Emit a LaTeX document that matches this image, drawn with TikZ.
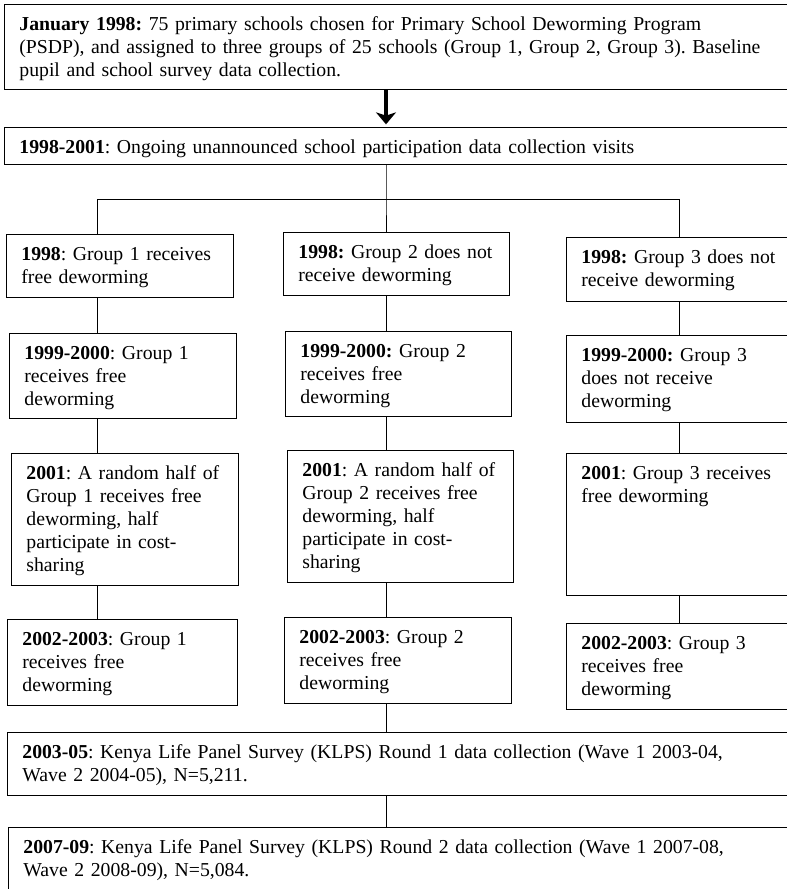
\documentclass[tikz,border=0pt]{standalone}
\usepackage{fontspec}
\setmainfont{Liberation Serif}
\usetikzlibrary{arrows.meta}
\frenchspacing

\begin{document}
\begin{tikzpicture}[x=0.75pt,y=-0.75pt,
    box/.style={draw,line width=1.1pt,anchor=north west,align=left,
      inner xsep=11pt,inner ysep=6pt,text height=13.5pt,
      font=\fontsize{14.8}{17.2}\selectfont},
    link/.style={line width=0.7pt}]
  \useasboundingbox (0,0) rectangle (787,889);
  \coordinate (c1) at (97,0);
  \coordinate (c2) at (386,0);
  \coordinate (c3) at (679,0);
  \coordinate (split) at (386,199);

  \node[box,text width=575pt,text depth=38.25pt] (start) at (4,4)
    {\textbf{January 1998:} 75 primary schools chosen for Primary School Deworming Program\\
     (PSDP), and assigned to three groups of 25 schools (Group 1, Group 2, Group 3). Baseline\\
     pupil and school survey data collection.};
  \node[box,text width=575pt,text depth=2.25pt] (visits) at (4,127)
    {\textbf{1998-2001}: Ongoing unannounced school participation data collection visits};

  \node[box,text width=148.25pt,text depth=21.75pt] (g1a) at (6,234)
    {\textbf{1998}: Group 1 receives\\ free deworming};
  \node[box,text width=147.5pt,text depth=21.75pt] (g2a) at (283,232)
    {\textbf{1998:} Group 2 does not\\ receive deworming};
  \node[box,text width=154.25pt,text depth=22.5pt] (g3a) at (566,237)
    {\textbf{1998:} Group 3 does not\\ receive deworming};

  \node[box,text width=148.25pt,text depth=38.25pt] (g1b) at (9,333)
    {\textbf{1999-2000}: Group 1\\ receives free\\ deworming};
  \node[box,text width=147.5pt,text depth=38.25pt] (g2b) at (285,331)
    {\textbf{1999-2000:} Group 2\\ receives free\\ deworming};
  \node[box,text width=154.25pt,text depth=39.75pt] (g3b) at (566,335)
    {\textbf{1999-2000:} Group 3\\ does not receive\\ deworming};

  \node[box,text width=148.25pt,text depth=73.5pt] (g1c) at (11,453)
    {\textbf{2001}: A random half of\\ Group 1 receives free\\ deworming, half\\ participate in cost-\\ sharing};
  \node[box,text width=147.5pt,text depth=73.5pt] (g2c) at (287,450)
    {\textbf{2001}: A random half of\\ Group 2 receives free\\ deworming, half\\ participate in cost-\\ sharing};
  \node[box,text width=154.25pt,text depth=81pt] (g3c) at (566,453)
    {\textbf{2001}: Group 3 receives\\ free deworming};

  \node[box,text width=150.5pt,text depth=39pt] (g1d) at (7,619)
    {\textbf{2002-2003}: Group 1\\ receives free\\ deworming};
  \node[box,text width=148.25pt,text depth=39pt] (g2d) at (284,617)
    {\textbf{2002-2003}: Group 2\\ receives free\\ deworming};
  \node[box,text width=154.25pt,text depth=39pt] (g3d) at (566,623)
    {\textbf{2002-2003}: Group 3\\ receives free\\ deworming};

  \node[box,text width=572.75pt,text depth=21.75pt] (klps1) at (7,732)
    {\textbf{2003-05}: Kenya Life Panel Survey (KLPS) Round 1 data collection (Wave 1 2003-04,\\
     Wave 2 2004-05), N=5,211.};
  \node[box,text width=572pt,text depth=29.25pt] (klps2) at (8,827)
    {\textbf{2007-09}: Kenya Life Panel Survey (KLPS) Round 2 data collection (Wave 1 2007-08,\\
     Wave 2 2008-09), N=5,084.};

  \draw[line width=2.4pt,-{Stealth[length=9pt,width=15pt,inset=2.5pt]},shorten >=2pt]
    (c2 |- start.south) -- (c2 |- visits.north);
  \draw[link] (c2 |- visits.south) -- (split) -- (c2 |- g2a.north);
  \draw[link] (c1 |- g1a.north) -- (c1 |- split) -- (c3 |- split) -- (c3 |- g3a.north);
  \foreach \a/\b/\c in {g1a/g1b/c1,g1b/g1c/c1,g1c/g1d/c1,
                        g2a/g2b/c2,g2b/g2c/c2,g2c/g2d/c2,g2d/klps1/c2,klps1/klps2/c2,
                        g3a/g3b/c3,g3b/g3c/c3,g3c/g3d/c3}
    \draw[link] (\c |- \a.south) -- (\c |- \b.north);
\end{tikzpicture}
\end{document}
